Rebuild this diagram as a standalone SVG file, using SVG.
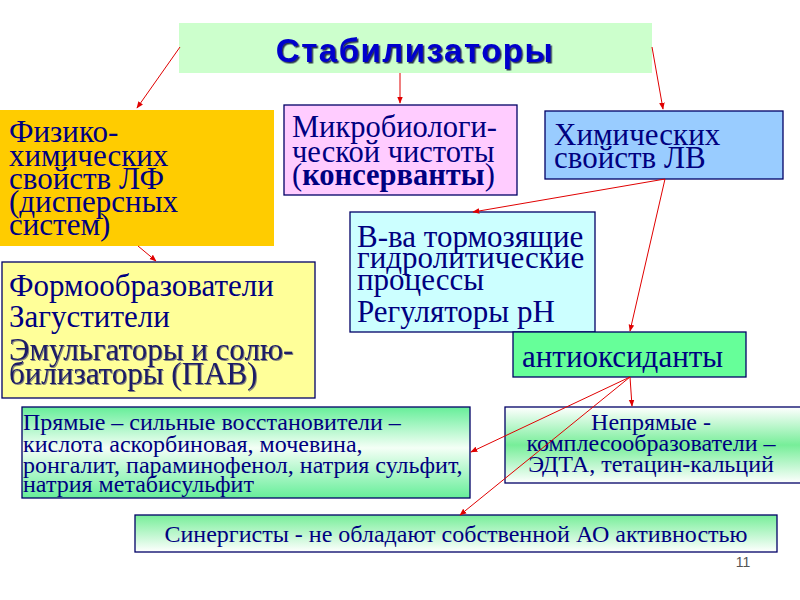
<svg xmlns="http://www.w3.org/2000/svg" width="800" height="600" viewBox="0 0 800 600">
<defs>
<style>
text.t{font-family:'Liberation Serif','DejaVu Serif','Times New Roman',serif;fill:#000080}
.b{stroke:#000066;stroke-width:1.3}
.c{stroke:#e00000;stroke-width:1;fill:none;marker-end:url(#ah)}
</style>
<marker id="ah" viewBox="0 0 10 10" refX="9" refY="5" markerWidth="7" markerHeight="7" orient="auto" markerUnits="userSpaceOnUse">
<path d="M0,1 L10,5 L0,9 z" fill="#e00000"/>
</marker>
<filter id="sh" x="-5%" y="-20%" width="110%" height="140%">
<feDropShadow dx="1.5" dy="1.5" stdDeviation="0.3" flood-color="#000033" flood-opacity="0.8"/>
</filter>
<filter id="sh2" x="-5%" y="-20%" width="110%" height="140%">
<feDropShadow dx="1" dy="1" stdDeviation="0.3" flood-color="#333366" flood-opacity="0.6"/>
</filter>
<linearGradient id="g1" x1="0" y1="0" x2="0" y2="1">
<stop offset="0" stop-color="#66ee99"/><stop offset="0.45" stop-color="#f4fff6"/><stop offset="1" stop-color="#66ee99"/>
</linearGradient>
<linearGradient id="g2" x1="0" y1="0" x2="0" y2="1">
<stop offset="0" stop-color="#ffffff"/><stop offset="0.5" stop-color="#77ee99"/><stop offset="1" stop-color="#ffffff"/>
</linearGradient>
<linearGradient id="g3" x1="0" y1="0" x2="0" y2="1">
<stop offset="0" stop-color="#77ee99"/><stop offset="1" stop-color="#ffffff"/>
</linearGradient>
</defs>
<rect width="800" height="600" fill="#ffffff"/>

<g id="stab">
<rect x="179" y="23" width="473" height="50" fill="#ccffcc"/>
<text x="415" y="62" text-anchor="middle" font-family="'Liberation Sans',Arial,sans-serif" font-weight="bold" font-size="33" letter-spacing="1.5" fill="#0000cc" filter="url(#sh)">Стабилизаторы</text>
</g>

<g id="fiz">
<rect x="0" y="110" width="274" height="136" fill="#ffcc00"/>
<text class="t" font-size="31"><tspan x="9" y="142">Физико-</tspan><tspan x="9" y="166">химических</tspan><tspan x="9" y="189">свойств ЛФ</tspan><tspan x="9" y="212">(дисперсных</tspan><tspan x="9" y="235">систем)</tspan></text>
</g>

<g id="micro">
<rect x="284" y="105" width="233" height="90" fill="#ffccff" class="b"/>
<text class="t" font-size="30.5"><tspan x="292" y="137">Микробиологи-</tspan><tspan x="292" y="162">ческой чистоты</tspan><tspan x="292" y="185">(<tspan font-weight="bold">консерванты</tspan>)</tspan></text>
</g>

<g id="chem">
<rect x="545" y="111" width="238" height="68" fill="#99ccff" class="b"/>
<text class="t" font-size="31"><tspan x="554" y="145">Химических</tspan><tspan x="554" y="168">свойств ЛВ</tspan></text>
</g>

<g id="vva">
<rect x="350" y="212" width="245" height="120" fill="#ccffff" class="b"/>
<text class="t" font-size="31"><tspan x="357" y="247">В-ва тормозящие</tspan><tspan x="357" y="268">гидролитические</tspan><tspan x="357" y="290">процессы</tspan><tspan x="357" y="322">Регуляторы рН</tspan></text>
</g>

<g id="anti">
<rect x="513" y="332" width="233" height="45" fill="#66ff99" class="b"/>
<text class="t" font-size="31" x="522" y="367">антиоксиданты</text>
</g>

<g id="form">
<rect x="2" y="262" width="313" height="136" fill="#ffff99" class="b"/>
<text class="t" font-size="31"><tspan x="9" y="296">Формообразователи</tspan><tspan x="9" y="327">Загустители</tspan></text>
<text class="t" font-size="31" filter="url(#sh2)" style="fill:#1a1a66"><tspan x="9" y="360">Эмульгаторы и солю-</tspan><tspan x="9" y="384">билизаторы (ПАВ)</tspan></text>
</g>

<g id="pryam">
<rect x="22" y="407" width="448" height="91" fill="url(#g1)" class="b"/>
<text class="t" font-size="24"><tspan x="23" y="430">Прямые – сильные восстановители –</tspan><tspan x="23" y="452">кислота аскорбиновая, мочевина,</tspan><tspan x="23" y="473">ронгалит, параминофенол, натрия сульфит,</tspan><tspan x="23" y="492">натрия метабисульфит</tspan></text>
</g>

<g id="nepr">
<rect x="505" y="407" width="300" height="76" fill="url(#g2)" class="b"/>
<text class="t" font-size="24" text-anchor="middle"><tspan x="651" y="430">Непрямые -</tspan><tspan x="651" y="451">комплесообразователи –</tspan><tspan x="651" y="472">ЭДТА, тетацин-кальций</tspan></text>
</g>

<g id="syn">
<rect x="135" y="515" width="642" height="37" fill="url(#g3)" class="b"/>
<text class="t" font-size="24" text-anchor="middle" x="456" y="542">Синергисты - не обладают собственной АО активностью</text>
</g>

<g id="pagenum">
<text x="743" y="567" text-anchor="middle" font-family="'Liberation Sans',Arial,sans-serif" font-size="14" fill="#555555">11</text>
</g>

<g id="connectors">
<path class="c" d="M180,47 L137,108"/>
<path class="c" d="M400,73 L400,103"/>
<path class="c" d="M652,47 L663,109"/>
<path class="c" d="M665,179 L473,212"/>
<path class="c" d="M665,179 L630,331"/>
<path class="c" d="M138,246 L156,261"/>
<path class="c" d="M630,377 L632,406"/>
<path class="c" d="M630,377 L471,452"/>
<path class="c" d="M630,377 L460,515"/>
</g>
</svg>
